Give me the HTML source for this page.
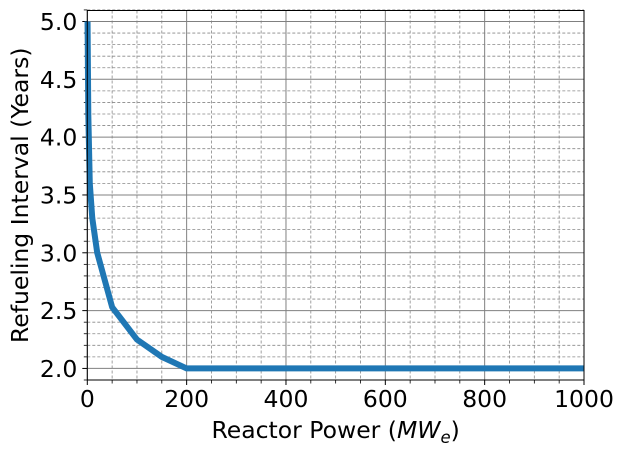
<!DOCTYPE html>
<html><head><meta charset="utf-8"><style>
body{margin:0;background:#fff;font-family:"Liberation Sans","DejaVu Sans",sans-serif}
text{font-family:"DejaVu Sans","Liberation Sans",sans-serif}
</style></head><body>
<svg id="c" width="622" height="455"></svg>
<script>
const powerMWe=[0.5,2,5,10,20,50,100,150,200,400,600,800,1000];
const intervalYears=[5.0,4.2,3.6,3.3,3.0,2.53,2.25,2.1,2.0,2.0,2.0,2.0,2.0];
const xTicks=[0,200,400,600,800,1000];
const yTicks=[2.0,2.5,3.0,3.5,4.0,4.5,5.0];
const L=87.3,R=584,T=10.5,B=380;
const x0=0,x1=1000,y0=1.9,y1=5.095;
const sx=v=>L+(v-x0)/(x1-x0)*(R-L);
const sy=v=>B-(v-y0)/(y1-y0)*(B-T);
const svg=document.getElementById('c');
const NS='http://www.w3.org/2000/svg';
function mk(t,a,p){const e=document.createElementNS(NS,t);for(const k in a)e.setAttribute(k,a[k]);(p||svg).appendChild(e);return e;}
for(let v=50;v<1000;v+=50){if(v%200===0)continue;
const e=mk('line',{x1:sx(v),x2:sx(v),y1:T,y2:B,stroke:'#888','stroke-width':0.8,'stroke-dasharray':'3,2'});


mk('line',{x1:sx(v),x2:sx(v),y1:B,y2:B+3.5,stroke:'#000','stroke-width':0.8});}
for(let i=19;i<=51;i++){const v=i/10;if(i%5===0)continue;
const e=mk('line',{x1:L,x2:R,y1:sy(v),y2:sy(v),stroke:'#888','stroke-width':0.8,'stroke-dasharray':'3,2'});


mk('line',{x1:L-3.5,x2:L,y1:sy(v),y2:sy(v),stroke:'#000','stroke-width':0.8});}
xTicks.forEach(v=>{
const g=mk('line',{x1:sx(v),x2:sx(v),y1:T,y2:B,stroke:'#808080','stroke-width':1});


mk('line',{x1:sx(v),x2:sx(v),y1:B,y2:B+5,stroke:'#000','stroke-width':1});
const t=mk('text',{x:sx(v),y:B+27,'text-anchor':'middle','font-size':'23.5'});t.textContent=v;

});
yTicks.forEach(v=>{
const g=mk('line',{x1:L,x2:R,y1:sy(v),y2:sy(v),stroke:'#808080','stroke-width':1});


mk('line',{x1:L-5,x2:L,y1:sy(v),y2:sy(v),stroke:'#000','stroke-width':1});
const t=mk('text',{x:L-10,y:sy(v)+8.5,'text-anchor':'end','font-size':'23.5'});t.textContent=v.toFixed(1);

});
const pts=powerMWe.map((p,i)=>sx(p)+','+sy(intervalYears[i])).join(' ');
const line=mk('polyline',{points:pts,fill:'none',stroke:'#1f77b4','stroke-width':6,'stroke-linejoin':'round'});


const f=mk('rect',{x:L,y:T,width:R-L,height:B-T,fill:'none',stroke:'#000','stroke-width':1});


const xl=mk('text',{x:(L+R)/2,y:438,'text-anchor':'middle','font-size':'23.5'});
xl.innerHTML='Reactor Power (<tspan font-style="italic">MW</tspan><tspan font-style="italic" font-size="16.5" dy="5">e</tspan><tspan dy="-5">)</tspan>';


const yl=mk('text',{x:0,y:0,'text-anchor':'middle','font-size':'23.5',transform:'translate(28,'+((T+B)/2)+') rotate(-90)'});
yl.textContent='Refueling Interval (Years)';


</script>
</body></html>
